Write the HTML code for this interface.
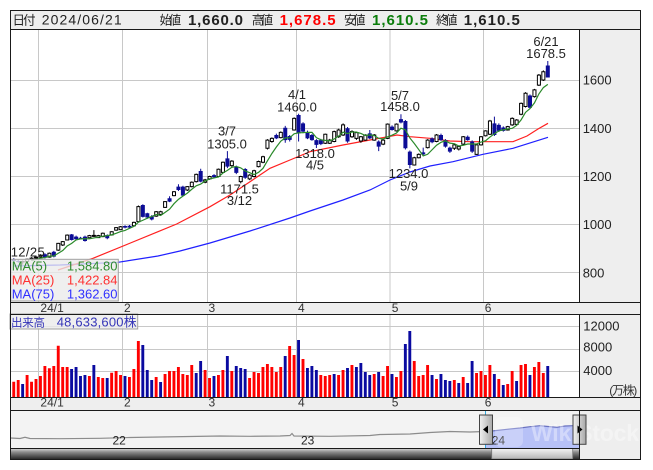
<!DOCTYPE html>
<html><head><meta charset="utf-8"><style>
html,body{margin:0;padding:0;background:#fff;}
svg{display:block;}
text{font-family:"Liberation Sans","Noto Sans CJK JP",sans-serif;}
</style></head><body>
<svg width="653" height="470" viewBox="0 0 653 470" xmlns="http://www.w3.org/2000/svg">
<defs>
<linearGradient id="trk" x1="0" y1="0" x2="0" y2="1"><stop offset="0" stop-color="#d8d8d8"/><stop offset="0.35" stop-color="#8a8a8a"/><stop offset="1" stop-color="#2a2a2a"/></linearGradient>
<linearGradient id="thm" x1="0" y1="0" x2="0" y2="1"><stop offset="0" stop-color="#f4f4f4"/><stop offset="1" stop-color="#b4b4b4"/></linearGradient>
<linearGradient id="hdl" x1="0" y1="0" x2="1" y2="0"><stop offset="0" stop-color="#f2f2f2"/><stop offset="1" stop-color="#a8a8a8"/></linearGradient>
<clipPath id="cm"><rect x="11" y="30" width="568" height="272"/></clipPath>
<clipPath id="cv"><rect x="11" y="315" width="568" height="82"/></clipPath>
</defs>

<rect x="10.5" y="10.5" width="630" height="19" fill="#eeeeee"/>
<rect x="11" y="30" width="568" height="272" fill="#ffffff"/>
<rect x="579.5" y="29.5" width="61" height="273" fill="#eeeeee"/>
<rect x="10.5" y="302.5" width="630" height="12" fill="#eeeeee"/>
<rect x="11" y="315" width="568" height="82" fill="#ffffff"/>
<rect x="579.5" y="314.5" width="61" height="83" fill="#eeeeee"/>
<rect x="10.5" y="397.5" width="630" height="13" fill="#eeeeee"/>
<rect x="10.5" y="410.5" width="569" height="38" fill="#f3f3f3"/>
<rect x="579.5" y="410.5" width="61" height="49" fill="#eeeeee"/>

<g stroke="#c8c8c8" stroke-width="1" fill="none">
<path d="M11 80.5H579M11 128.5H579M11 176.5H579M11 224.5H579M11 272.5H579"/>
<path d="M38.5 30V302M122.5 30V302M207.5 30V302M296.5 30V302M390 30V302M483.5 30V302"/>
<path d="M11 326.5H579M11 349.5H579M11 371.5H579"/>
<path d="M38.5 315V397M122.5 315V397M207.5 315V397M296.5 315V397M390 315V397M483.5 315V397"/>
</g>

<g clip-path="url(#cm)">
<polyline fill="none" stroke="#2020ff" stroke-width="1.2" points="14,266 60,265 118,262.3 158,256 180,251 210,243 250,231 290,218 310,211 343,200 370,190 390,180 410,172 430,166 453,161.7 483,154.3 513,148.3 548,137.3"/>
<polyline fill="none" stroke="#ff2020" stroke-width="1.2" points="58,270 93,258.3 128,244 158,231.7 176.7,224 210,206.7 230,195 250,181.7 270,168.3 290,160 310,151.7 343,145 370,140 397,135 410,136.7 430,138.3 450,141 470,141.7 513,141.7 527,136 538,129 548,123.3"/>
<g transform="matrix(4.45 0 0 -0.2413 13.8 466.08)">
<path fill="none" stroke="#000" stroke-width="1" vector-effect="non-scaling-stroke" d="M2 835V852M3 845V860M4 852V866M5 858V870M6 862V878M8 864V885M10 892V925M11 912V933M12 935V960M17 944V958M18 950V978M19 945V958M20 949V968M22 955V973M23 975V990M24 978V995M27 994V1013M28 1010V1080M32 1033V1057M33 1040V1058M34 1070V1098M36 1118V1140M39 1140V1160M40 1155V1180M41 1175V1212M43 1172V1190M44 1186V1203M46 1196V1233M47 1214V1262M49 1240V1268M51 1171.5V1203M53 1185V1210M54 1196V1228M55 1238V1266M56 1255V1286M57 1312V1355M58 1340V1362M60 1358V1387M63 1390V1445M70 1335V1378M71 1335V1356M72 1342V1390M73 1360V1398M74 1368V1420M76 1360V1392M77 1352V1386M78 1340V1368M79 1348V1375M81 1348V1376M83 1330V1355M84 1355V1420M86 1386V1420M90 1245V1282M91 1275V1296M93 1316V1355M95 1342V1376M99 1310V1334M100 1308V1328M101 1330V1368M104 1290V1335M105 1328V1368M106 1366V1392M107 1372V1435M111 1390V1410M112 1410V1445M113 1412V1438M114 1454V1507M115 1486V1550M117 1527V1563M118 1575V1625M119 1596V1640"/>
<path fill="none" stroke="#0c0c96" stroke-width="1" vector-effect="non-scaling-stroke" d="M0 845V862M1 842V855M7 860V882M9 865V892M13 935V962M14 935V955M15 940V950M16 930V955M21 940V960M25 985V998M26 985V999M29 1030V1085M30 1025V1050M31 1018V1040M35 1094V1118M37 1140V1168M38 1118V1162M42 1176V1232M45 1194V1210M48 1235V1305M50 1210V1245M52 1190V1235M59 1355V1378M61 1340V1410M62 1345V1372M64 1345V1460M65 1380V1425M66 1355V1390M67 1348V1376M68 1318V1355M69 1330V1356M75 1340V1405M80 1355V1393M82 1305V1350M85 1390V1412M87 1420V1458M88 1312V1434M89 1234V1308M92 1285V1320M94 1338V1362M96 1348V1378M97 1320V1355M98 1298V1324M102 1348V1370M103 1298V1350M108 1368V1448M109 1385V1420M110 1386V1408M116 1480V1540M120 1610.5V1678.5"/>
<path fill="#ffffff" stroke="#000" stroke-width="1" vector-effect="non-scaling-stroke" d="M1.66 846H2.34V848H1.66ZM2.66 848H3.34V857H2.66ZM3.66 857H4.34V862H3.66ZM4.66 862H5.34V866H4.66ZM5.66 866H6.34V874H5.66ZM7.66 866H8.34V882H7.66ZM9.66 895H10.34V923H9.66ZM10.66 916H11.34V930H10.66ZM11.66 937H12.34V957H11.66ZM16.66 946H17.34V955H16.66ZM17.66 952H18.34V956H17.66ZM18.66 947H19.34V955H18.66ZM19.66 951H20.34V965H19.66ZM21.66 958H22.34V971H21.66ZM22.66 978H23.34V988H22.66ZM23.66 980H24.34V992H23.66ZM26.66 996H27.34V1010H26.66ZM27.66 1013H28.34V1075H27.66ZM31.66 1036H32.34V1054H31.66ZM32.66 1043H33.34V1054H32.66ZM33.66 1072H34.34V1096H33.66ZM35.66 1121H36.34V1137H35.66ZM38.66 1144H39.34V1158H38.66ZM39.66 1158H40.34V1176H39.66ZM40.66 1179H41.34V1209H40.66ZM42.66 1176H43.34V1186H42.66ZM43.66 1190H44.34V1200H43.66ZM45.66 1200H46.34V1230H45.66ZM46.66 1217H47.34V1259H46.66ZM48.66 1245H49.34V1264H48.66ZM50.66 1179H51.34V1200H50.66ZM52.66 1190H53.34V1206H52.66ZM53.66 1200H54.34V1224H53.66ZM54.66 1241H55.34V1262H54.66ZM55.66 1259H56.34V1282H55.66ZM56.66 1317H57.34V1351H56.66ZM57.66 1345H58.34V1358H57.66ZM59.66 1361H60.34V1383H59.66ZM62.66 1393H63.34V1441H62.66ZM69.66 1338H70.34V1375H69.66ZM70.66 1338H71.34V1351H70.66ZM71.66 1345H72.34V1386H71.66ZM72.66 1365H73.34V1393H72.66ZM73.66 1372H74.34V1414H73.66ZM75.66 1365H76.34V1386H75.66ZM76.66 1358H77.34V1382H76.66ZM77.66 1347H78.34V1365H77.66ZM78.66 1351H79.34V1372H78.66ZM80.66 1351H81.34V1372H80.66ZM82.66 1334H83.34V1351H82.66ZM83.66 1358H84.34V1417H83.66ZM85.66 1389H86.34V1417H85.66ZM89.66 1248H90.34V1278H89.66ZM90.66 1278H91.34V1292H90.66ZM92.66 1320H93.34V1351H92.66ZM94.66 1345H95.34V1372H94.66ZM98.66 1317H99.34V1331H98.66ZM99.66 1314H100.34V1324H99.66ZM100.66 1334H101.34V1365H100.66ZM103.66 1292H104.34V1331H103.66ZM104.66 1331H105.34V1365H104.66ZM105.66 1369H106.34V1389H105.66ZM106.66 1375H107.34V1430H106.66ZM110.66 1393H111.34V1407H110.66ZM111.66 1414H112.34V1441H111.66ZM112.66 1416H113.34V1434H112.66ZM113.66 1458H114.34V1503H113.66ZM114.66 1490H115.34V1545H114.66ZM116.66 1531H117.34V1559H116.66ZM117.66 1579H118.34V1620H117.66ZM118.66 1600H119.34V1634H118.66Z"/>
<path fill="#0c0c96" stroke="none" d="M-0.45 850h0.9V858h-0.9zM0.55 846h0.9V850h-0.9zM6.55 864h0.9V878h-0.9zM8.55 868h0.9V888h-0.9zM12.55 937h0.9V960h-0.9zM13.55 940h0.9V951h-0.9zM14.55 942h0.9V946h-0.9zM15.55 933h0.9V951h-0.9zM20.55 944h0.9V957h-0.9zM24.55 988h0.9V995h-0.9zM25.55 988h0.9V996h-0.9zM28.55 1033h0.9V1082h-0.9zM29.55 1030h0.9V1048h-0.9zM30.55 1022h0.9V1035h-0.9zM34.55 1096h0.9V1110h-0.9zM36.55 1144h0.9V1158h-0.9zM37.55 1121h0.9V1158h-0.9zM41.55 1179h0.9V1223h-0.9zM44.55 1197h0.9V1206h-0.9zM47.55 1241h0.9V1275h-0.9zM49.55 1215h0.9V1240h-0.9zM51.55 1195h0.9V1231h-0.9zM58.55 1358h0.9V1372h-0.9zM60.55 1351h0.9V1402h-0.9zM61.55 1352h0.9V1368h-0.9zM63.55 1379h0.9V1455h-0.9zM64.55 1386h0.9V1420h-0.9zM65.55 1358h0.9V1383h-0.9zM66.55 1351h0.9V1372h-0.9zM67.55 1331h0.9V1351h-0.9zM68.55 1334h0.9V1351h-0.9zM74.55 1345h0.9V1400h-0.9zM79.55 1358h0.9V1379h-0.9zM81.55 1324h0.9V1345h-0.9zM84.55 1393h0.9V1407h-0.9zM86.55 1424h0.9V1438h-0.9zM87.55 1317h0.9V1430h-0.9zM88.55 1248h0.9V1303h-0.9zM91.55 1292h0.9V1300h-0.9zM93.55 1342h0.9V1358h-0.9zM95.55 1351h0.9V1372h-0.9zM96.55 1324h0.9V1351h-0.9zM97.55 1303h0.9V1320h-0.9zM101.55 1351h0.9V1365h-0.9zM102.55 1303h0.9V1345h-0.9zM107.55 1372h0.9V1420h-0.9zM108.55 1389h0.9V1414h-0.9zM109.55 1389h0.9V1403h-0.9zM115.55 1485h0.9V1536h-0.9zM119.55 1610.5h0.9V1660h-0.9z"/>
<polyline fill="none" stroke="#2a8a2a" stroke-width="1.2" vector-effect="non-scaling-stroke" points="4,852.6 5,855.8 6,861.4 7,864.6 8,869.6 9,870.8 10,882.2 11,893.4 12,912 13,923 14,937.4 15,941.6 16,942.2 17,941.8 18,945.6 19,948.6 20,952.8 21,955 22,958.2 23,964.6 24,972 25,976.6 26,985.4 27,993.2 28,1010.6 29,1018.8 30,1027.2 31,1034 32,1042.8 33,1038.6 34,1051.2 35,1064.4 36,1087.4 37,1105.4 38,1118.8 39,1131.2 40,1147.2 41,1161.6 42,1168.6 43,1181.6 44,1190 45,1194.2 46,1198.4 47,1214.4 48,1225.4 49,1238.2 50,1241.8 51,1235.8 52,1223 53,1216 54,1208 55,1217.4 56,1233.8 57,1265 58,1295.4 59,1322.2 60,1346.4 61,1360.2 62,1360.4 63,1377 64,1381.2 65,1381.8 66,1383.2 67,1383 68,1361 69,1352 70,1349.8 71,1348.4 72,1355.4 73,1367.8 74,1383.8 75,1377.8 76,1384.8 77,1384 78,1378.4 79,1370 80,1372.6 81,1369.8 82,1358.2 83,1355.4 84,1364.4 85,1371.4 86,1380.4 87,1400.4 88,1393.6 89,1359.8 90,1336.8 91,1311.8 92,1285.4 93,1292.2 94,1311 95,1329.8 96,1341.6 97,1348 98,1338.4 99,1336.2 100,1326.6 101,1329.4 102,1334.8 103,1334.8 104,1334.8 105,1343 106,1347.8 107,1363.6 108,1377.4 109,1389 110,1393.8 111,1397.4 112,1399.6 113,1412 114,1434.8 115,1466 116,1481.6 117,1505.2 118,1542.4 119,1568.6 120,1581.7"/>
</g>
</g>

<g font-size="13" fill="#222" text-anchor="middle">
<text x="546" y="46">6/21</text><text x="546" y="58">1678.5</text>
<text x="297" y="99">4/1</text><text x="297" y="111.5">1460.0</text>
<text x="227" y="135.5">3/7</text><text x="227" y="148.5">1305.0</text>
<text x="239.5" y="193.5">1171.5</text><text x="239.5" y="205">3/12</text>
<text x="315" y="158">1318.0</text><text x="315" y="169.5">4/5</text>
<text x="400" y="100">5/7</text><text x="400" y="111">1458.0</text>
<text x="408.5" y="178">1234.0</text><text x="409" y="190.5">5/9</text>
</g>
<text x="10.7" y="256.5" font-size="13" fill="#222" textLength="34">12/25</text>

<rect x="10.7" y="259.3" width="107.6" height="41.7" fill="#ebebeb" fill-opacity="0.78" stroke="#a0a0a0" stroke-width="1"/>
<g font-size="13">
<text x="11.7" y="270.5" fill="#2e8b2e">MA(5)</text><text x="117.5" y="270.5" fill="#2e8b2e" text-anchor="end">1,584.80</text>
<text x="11.7" y="284.5" fill="#ff3030">MA(25)</text><text x="117.5" y="284.5" fill="#ff3030" text-anchor="end">1,422.84</text>
<text x="11.7" y="298.5" fill="#3030ff">MA(75)</text><text x="117.5" y="298.5" fill="#3030ff" text-anchor="end">1,362.60</text>
</g>

<g font-size="13" fill="#222">
<text x="582.7" y="84.5">1600</text>
<text x="582.7" y="132.8">1400</text>
<text x="582.7" y="181">1200</text>
<text x="582.7" y="229.2">1000</text>
<text x="582.7" y="277.4">800</text>
</g>

<g font-size="12" fill="#333">
<text x="40.4" y="311.8">24/1</text><text x="124" y="311.8">2</text><text x="208.5" y="311.8">3</text><text x="298" y="311.8">4</text><text x="391.7" y="311.8">5</text><text x="484.8" y="311.8">6</text>
<text x="40.4" y="406.3">24/1</text><text x="124" y="406.3">2</text><text x="208.5" y="406.3">3</text><text x="298" y="406.3">4</text><text x="391.7" y="406.3">5</text><text x="484.8" y="406.3">6</text>
</g>

<g clip-path="url(#cv)">
<g transform="matrix(4.45 0 0 1 12.3 0)">
<path fill="#ff0000" d="M0 381.7h0.65V397h-0.65zM1 380h0.65V397h-0.65zM3 375h0.65V397h-0.65zM4 381.7h0.65V397h-0.65zM5 379h0.65V397h-0.65zM6 376h0.65V397h-0.65zM7 366h0.65V397h-0.65zM8 368.3h0.65V397h-0.65zM9 366h0.65V397h-0.65zM10 345.7h0.65V397h-0.65zM11 367h0.65V397h-0.65zM12 367h0.65V397h-0.65zM17 376h0.65V397h-0.65zM19 377h0.65V397h-0.65zM20 378h0.65V397h-0.65zM22 372.7h0.65V397h-0.65zM23 371h0.65V397h-0.65zM24 375h0.65V397h-0.65zM26 377h0.65V397h-0.65zM27 369h0.65V397h-0.65zM28 341h0.65V397h-0.65zM32 377h0.65V397h-0.65zM34 374h0.65V397h-0.65zM35 371h0.65V397h-0.65zM36 371h0.65V397h-0.65zM37 367h0.65V397h-0.65zM38 374h0.65V397h-0.65zM39 375h0.65V397h-0.65zM40 365h0.65V397h-0.65zM43 370h0.65V397h-0.65zM44 378h0.65V397h-0.65zM46 375h0.65V397h-0.65zM47 370h0.65V397h-0.65zM49 371h0.65V397h-0.65zM53 378h0.65V397h-0.65zM54 372h0.65V397h-0.65zM55 373h0.65V397h-0.65zM56 367h0.65V397h-0.65zM57 364h0.65V397h-0.65zM58 367h0.65V397h-0.65zM59 372h0.65V397h-0.65zM60 367h0.65V397h-0.65zM62 346h0.65V397h-0.65zM63 355h0.65V397h-0.65zM65 359h0.65V397h-0.65zM69 375h0.65V397h-0.65zM70 376h0.65V397h-0.65zM71 375h0.65V397h-0.65zM73 375h0.65V397h-0.65zM74 370h0.65V397h-0.65zM76 365h0.65V397h-0.65zM81 374h0.65V397h-0.65zM83 376h0.65V397h-0.65zM84 366h0.65V397h-0.65zM86 377h0.65V397h-0.65zM87 371h0.65V397h-0.65zM90 361h0.65V397h-0.65zM91 376h0.65V397h-0.65zM92 375h0.65V397h-0.65zM93 365h0.65V397h-0.65zM95 379h0.65V397h-0.65zM99 380h0.65V397h-0.65zM101 377h0.65V397h-0.65zM104 373h0.65V397h-0.65zM105 371h0.65V397h-0.65zM106 375h0.65V397h-0.65zM107 365h0.65V397h-0.65zM109 379h0.65V397h-0.65zM111 384h0.65V397h-0.65zM112 371h0.65V397h-0.65zM114 365h0.65V397h-0.65zM115 364h0.65V397h-0.65zM117 367h0.65V397h-0.65zM118 362h0.65V397h-0.65zM119 373h0.65V397h-0.65z"/>
<path fill="#0a0aa0" d="M2 384h0.65V397h-0.65zM13 369h0.65V397h-0.65zM14 367h0.65V397h-0.65zM15 376h0.65V397h-0.65zM16 375h0.65V397h-0.65zM18 365h0.65V397h-0.65zM21 378h0.65V397h-0.65zM25 376h0.65V397h-0.65zM29 345h0.65V397h-0.65zM30 370h0.65V397h-0.65zM31 380h0.65V397h-0.65zM33 382h0.65V397h-0.65zM41 373h0.65V397h-0.65zM42 361h0.65V397h-0.65zM45 376h0.65V397h-0.65zM48 356h0.65V397h-0.65zM50 366h0.65V397h-0.65zM51 368h0.65V397h-0.65zM52 369h0.65V397h-0.65zM61 356h0.65V397h-0.65zM64 340h0.65V397h-0.65zM66 368h0.65V397h-0.65zM67 366h0.65V397h-0.65zM68 370h0.65V397h-0.65zM72 374h0.65V397h-0.65zM75 368h0.65V397h-0.65zM77 367h0.65V397h-0.65zM78 363h0.65V397h-0.65zM79 372h0.65V397h-0.65zM80 375h0.65V397h-0.65zM82 372h0.65V397h-0.65zM85 374h0.65V397h-0.65zM88 344h0.65V397h-0.65zM89 331h0.65V397h-0.65zM94 375h0.65V397h-0.65zM96 374h0.65V397h-0.65zM97 380h0.65V397h-0.65zM98 381h0.65V397h-0.65zM100 383h0.65V397h-0.65zM102 383h0.65V397h-0.65zM103 361h0.65V397h-0.65zM108 374h0.65V397h-0.65zM110 385h0.65V397h-0.65zM113 381h0.65V397h-0.65zM116 375h0.65V397h-0.65zM120 366h0.65V397h-0.65z"/>
</g>
</g>
<rect x="10" y="314" width="127.7" height="15" fill="#ebebeb" fill-opacity="0.8" stroke="#a0a0a0" stroke-width="1"/>
<text x="11" y="326.5" font-size="11.5" fill="#3535b8" textLength="34">出来高</text>
<text x="56.7" y="326.5" font-size="13" fill="#3535b8" textLength="80">48,633,600株</text>

<g font-size="13" fill="#222">
<text x="583.3" y="330.3">12000</text>
<text x="583.3" y="351.5">8000</text>
<text x="583.3" y="375">4000</text>
</g>
<text x="609.3" y="394.5" font-size="12" fill="#333" textLength="28">(万株)</text>

<polygon fill="#b7c1f7" points="485,431.5 492,431 507,429.3 520,428 530,426.7 540,425.7 548,426.5 557,427.3 565,426 573,425.7 579,425.5 579,448 485,448"/>
<polyline fill="none" stroke="#8c8c8c" stroke-width="1.2" points="10.5,438 20,438.5 25,437.3 30,438.5 60,438.7 100,438.3 130,437.5 160,437 190,436.5 220,436 250,436.3 280,436 290,435.5 292,433.5 294,436 330,436.3 370,435.5 380,434.5 410,434 430,432.5 450,431.5 470,432 485,431.5"/>
<polyline fill="none" stroke="#6a72c0" stroke-width="1.2" points="485,431.5 492,431 507,429.3 520,428 530,426.7 540,425.7 548,426.5 557,427.3 565,426 573,425.7 579,425.5"/>
<g font-size="12" fill="#222">
<text x="112.5" y="444.5">22</text>
<text x="301" y="444.5">23</text>
<text x="491.7" y="444.5">24</text>
</g>
<rect x="495" y="417" width="28" height="30" rx="6" fill="#ffffff" fill-opacity="0.25"/>
<text x="531" y="441" font-size="23" font-weight="bold" fill="#ffffff" fill-opacity="0.38" textLength="108">WikiStock</text>
<path d="M485.5 410.5V448M579.5 410.5V448" stroke="#33aadd" stroke-width="1"/>

<rect x="10.5" y="448.5" width="569" height="10.5" fill="url(#trk)"/>
<rect x="491.7" y="448.5" width="81" height="10.5" fill="url(#thm)" stroke="#777" stroke-width="0.8"/>

<rect x="479.5" y="415" width="13" height="29.3" fill="url(#hdl)" stroke="#444" stroke-width="1"/>
<path d="M483 429.5L488 425.5V433.5Z" fill="#000"/>
<rect x="573" y="415" width="13" height="29.3" fill="url(#hdl)" stroke="#444" stroke-width="1"/>
<path d="M582.5 429.5L577.5 425.5V433.5Z" fill="#000"/>

<g stroke="#1a1a1a" stroke-width="1" fill="none">
<rect x="10.5" y="10.5" width="630" height="449"/>
<path d="M10.5 29.5H640.5M10.5 302.5H640.5M10.5 314.5H640.5M10.5 397.5H640.5M10.5 410.5H640.5M10.5 448.5H579.5"/>
<path d="M579.5 29.5V302.5M579.5 314.5V397.5M579.5 410.5V459.5"/>
</g>

<text x="12.5" y="24.3" font-size="12.5" fill="#222" textLength="23">日付</text>
<text x="41.7" y="24.3" font-size="14" fill="#222" textLength="80">2024/06/21</text>
<text x="159.6" y="24.3" font-size="12.5" fill="#222" textLength="21.5">始値</text>
<text x="188" y="24.8" font-size="15" font-weight="bold" fill="#222" textLength="55">1,660.0</text>
<text x="251.7" y="24.3" font-size="12.5" fill="#222" textLength="21.5">高値</text>
<text x="279.6" y="24.8" font-size="15" font-weight="bold" fill="#ff0000" textLength="56">1,678.5</text>
<text x="344" y="24.3" font-size="12.5" fill="#222" textLength="21.5">安値</text>
<text x="372" y="24.8" font-size="15" font-weight="bold" fill="#0b7d0b" textLength="56">1,610.5</text>
<text x="436" y="24.3" font-size="12.5" fill="#222" textLength="21.5">終値</text>
<text x="463.8" y="24.8" font-size="15" font-weight="bold" fill="#222" textLength="56">1,610.5</text>
</svg>
</body></html>
